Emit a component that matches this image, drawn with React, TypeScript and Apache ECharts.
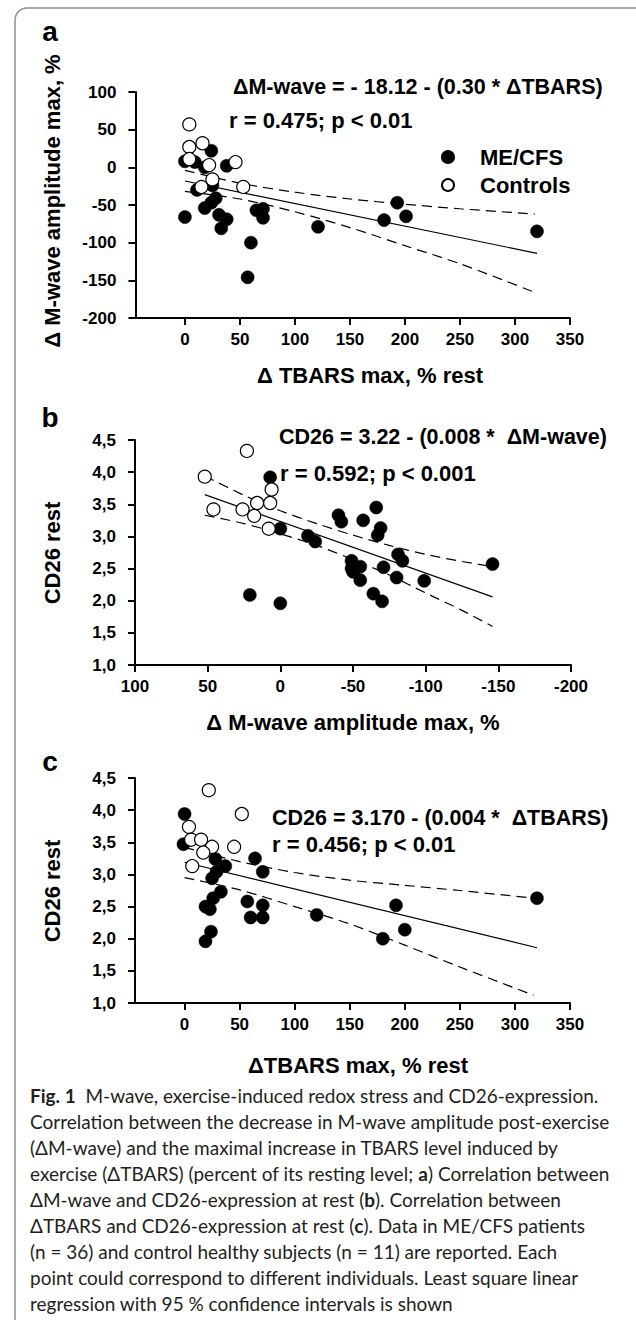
import React, { useEffect, useRef } from 'react';
import * as echarts from 'echarts';

const FONT = '"Liberation Sans", Arial, Helvetica, sans-serif';
const CAP_FONT = 'Lato, "Noto Sans", sans-serif';

// ---------- Panel a : ΔTBARS (x) vs ΔM-wave (y) ----------
const aXTicks = [0, 50, 100, 150, 200, 250, 300, 350];
const aMecfs: number[][] = [
  [24, 22], [0, 8], [9, 7], [18, 0], [38, 2], [11, -30], [25, -24], [28, -41],
  [24, -47], [18, -54], [31, -63], [38, -69], [33, -81], [0, -66], [65, -57],
  [71, -55], [71, -67], [121, -79], [193, -47], [201, -65], [181, -70],
  [60, -100], [57, -146], [320, -85],
];
const aControls: number[][] = [
  [4, 57], [4, 27], [16, 32], [4, 11], [46, 7], [22, 3], [25, -16], [15, -26], [53, -26],
];
const aFit: number[][] = [[0, -18.1], [320, -114.1]];
const aUpper: number[][] = [[0, -4], [50, -21], [100, -33], [150, -42], [200, -49], [250, -55], [318, -62]];
const aLower: number[][] = [[0, -32], [50, -42], [100, -59], [150, -80], [200, -104], [250, -128], [318, -166]];

// ---------- Panel b : ΔM-wave (x, inverted) vs CD26 (y) ----------
const bMecfs: number[][] = [
  [7, 3.92], [0, 3.12], [-19, 3.01], [-24, 2.92], [21, 2.09], [0, 1.96], [-40, 3.33],
  [-42, 3.23], [-57, 3.25], [-66, 3.45], [-69, 3.13], [-67, 3.02], [-49, 2.62],
  [-49, 2.5], [-55, 2.53], [-50, 2.45], [-55, 2.32], [-71, 2.52], [-81, 2.72],
  [-84, 2.62], [-80, 2.36], [-99, 2.31], [-64, 2.11], [-70, 1.99], [-146, 2.57],
];
const bControls: number[][] = [
  [52, 3.93], [23, 4.33], [46, 3.42], [26, 3.42], [18, 3.32], [16, 3.52], [7, 3.52], [6, 3.73], [8, 3.12],
];
const bFit: number[][] = [[52, 3.65], [-146, 2.06]];
const bUpper: number[][] = [[52, 3.94], [25, 3.64], [0, 3.4], [-25, 3.2], [-50, 3.02], [-75, 2.86], [-100, 2.72], [-125, 2.61], [-146, 2.53]];
const bLower: number[][] = [[52, 3.33], [25, 3.2], [0, 3.04], [-25, 2.86], [-50, 2.64], [-75, 2.4], [-100, 2.12], [-125, 1.85], [-146, 1.6]];

// ---------- Panel c : ΔTBARS (x) vs CD26 (y) ----------
const cMecfs: number[][] = [
  [0, 3.94], [-1, 3.47], [28, 3.24], [37, 3.13], [29, 3.04], [25, 2.94], [64, 3.25],
  [71, 3.04], [33, 2.73], [26, 2.63], [19, 2.5], [23, 2.46], [57, 2.58], [71, 2.52],
  [60, 2.33], [71, 2.33], [120, 2.37], [24, 2.11], [19, 1.96], [192, 2.52], [180, 2.0],
  [200, 2.14], [320, 2.63],
];
const cControls: number[][] = [
  [22, 4.31], [52, 3.94], [4, 3.74], [6, 3.54], [15, 3.54], [25, 3.43], [17, 3.34], [45, 3.43], [7, 3.13],
];
const cFit: number[][] = [[0, 3.19], [320, 1.86]];
const cUpper: number[][] = [[0, 3.42], [50, 3.2], [100, 3.03], [150, 2.91], [200, 2.83], [250, 2.75], [317, 2.63]];
const cLower: number[][] = [[0, 2.95], [50, 2.76], [100, 2.5], [150, 2.23], [200, 1.9], [250, 1.56], [317, 1.12]];

const seriesNames = ['ME/CFS', 'Controls'];

const captionLines = [
  '{b|Fig. 1}  M-wave, exercise-induced redox stress and CD26-expression.',
  'Correlation between the decrease in M-wave amplitude post-exercise',
  '(ΔM-wave) and the maximal increase in TBARS level induced by',
  'exercise (ΔTBARS) (percent of its resting level; {b|a}) Correlation between',
  'ΔM-wave and CD26-expression at rest ({b|b}). Correlation between',
  'ΔTBARS and CD26-expression at rest ({b|c}). Data in ME/CFS patients',
  '(n = 36) and control healthy subjects (n = 11) are reported. Each',
  'point could correspond to different individuals. Least square linear',
  'regression with 95 % confidence intervals is shown',
];

const axisLine = { show: true, onZero: false, lineStyle: { color: '#000', width: 2 } };
const tick = { show: true, length: 7, lineStyle: { color: '#000', width: 2 } };
const lbl = { color: '#000', fontSize: 17, fontWeight: 'bold' as const, fontFamily: FONT };
const commaFmt = (v: number) => v.toFixed(1).replace('.', ',');

function text(x: number, y: number, t: string, size: number, align = 'left', rotation = 0) {
  return {
    type: 'text',
    x,
    y,
    rotation,
    silent: true,
    style: {
      text: t,
      fill: '#000',
      fontSize: size,
      fontWeight: 'bold',
      fontFamily: FONT,
      align,
      verticalAlign: 'middle',
      textAlign: align,
      textVerticalAlign: 'middle',
    },
  };
}

export default function App() {
  const ref = useRef<HTMLDivElement>(null);
  useEffect(() => {
    if (!ref.current) return;
    const chart = echarts.init(ref.current, undefined, { renderer: 'svg' });

    const scatter = (name: string, data: number[][], idx: number, open: boolean) => ({
      type: 'scatter',
      name,
      xAxisIndex: idx,
      yAxisIndex: idx,
      data,
      symbol: 'circle',
      symbolSize: 13,
      z: open ? 4 : 3,
      itemStyle: open
        ? { color: '#fff', borderColor: '#000', borderWidth: 1.2, opacity: 1 }
        : { color: '#000', borderColor: '#000', borderWidth: 0.5, opacity: 1 },
      silent: true,
    });
    const line = (data: number[][], idx: number, dashed: boolean) => ({
      type: 'line',
      xAxisIndex: idx,
      yAxisIndex: idx,
      data,
      symbol: 'none',
      smooth: dashed ? 0.3 : false,
      z: 2,
      silent: true,
      lineStyle: { color: '#000', width: 1.2, type: dashed ? [10, 6] : 'solid' },
    });

    const caption = captionLines.map((t, i) => ({
      type: 'text',
      x: 30,
      y: 1095 + i * 26,
      silent: true,
      style: {
        text: t,
        fill: '#231f20',
        fontSize: 19,
        fontFamily: CAP_FONT,
        align: 'left',
        verticalAlign: 'middle',
        textAlign: 'left',
        textVerticalAlign: 'middle',
        rich: {
          b: { fontSize: 19, fontWeight: 'bold', fontFamily: CAP_FONT, fill: '#231f20' },
        },
      },
    }));

    chart.setOption({
      animation: false,
      backgroundColor: '#fff',
      grid: [
        { left: 135.4, top: 92, width: 434.6, height: 226 },
        { left: 135, top: 440, width: 436, height: 225 },
        { left: 135, top: 778, width: 435, height: 225 },
      ],
      xAxis: [
        {
          gridIndex: 0, type: 'value', min: -45, max: 350,
          axisLine, axisTick: { ...tick, customValues: aXTicks },
          axisLabel: { ...lbl, margin: 13, customValues: aXTicks },
          splitLine: { show: false },
        },
        {
          gridIndex: 1, type: 'value', min: -200, max: 100, interval: 50, inverse: true,
          axisLine, axisTick: tick, axisLabel: { ...lbl, margin: 13 },
          splitLine: { show: false },
        },
        {
          gridIndex: 2, type: 'value', min: -45, max: 350,
          axisLine, axisTick: { ...tick, customValues: aXTicks },
          axisLabel: { ...lbl, margin: 13, customValues: aXTicks },
          splitLine: { show: false },
        },
      ],
      yAxis: [
        {
          gridIndex: 0, type: 'value', min: -200, max: 100, interval: 50,
          axisLine, axisTick: tick, axisLabel: { ...lbl, margin: 19 },
          splitLine: { show: false },
        },
        {
          gridIndex: 1, type: 'value', min: 1, max: 4.5, interval: 0.5,
          axisLine, axisTick: tick, axisLabel: { ...lbl, margin: 19, formatter: commaFmt },
          splitLine: { show: false },
        },
        {
          gridIndex: 2, type: 'value', min: 1, max: 4.5, interval: 0.5,
          axisLine, axisTick: tick, axisLabel: { ...lbl, margin: 19, formatter: commaFmt },
          splitLine: { show: false },
        },
      ],
      legend: {
        orient: 'vertical',
        left: 436,
        top: 141,
        itemWidth: 12,
        itemHeight: 12,
        itemGap: 6,
        icon: 'circle',
        selectedMode: false,
        data: seriesNames,
        textStyle: { color: '#000', fontSize: 22, fontWeight: 'bold', fontFamily: FONT, padding: [0, 0, 0, 21] },
      },
      series: [
        line(aFit, 0, false), line(aUpper, 0, true), line(aLower, 0, true),
        scatter(seriesNames[0], aMecfs, 0, false), scatter(seriesNames[1], aControls, 0, true),
        line(bFit, 1, false), line(bUpper, 1, true), line(bLower, 1, true),
        scatter(seriesNames[0], bMecfs, 1, false), scatter(seriesNames[1], bControls, 1, true),
        line(cFit, 2, false), line(cUpper, 2, true), line(cLower, 2, true),
        scatter(seriesNames[0], cMecfs, 2, false), scatter(seriesNames[1], cControls, 2, true),
      ],
      graphic: [
        {
          type: 'rect', silent: true, z: -10,
          shape: { x: 15, y: 8, width: 700, height: 1400, r: 12 },
          style: { fill: 'none', stroke: '#8c8c8c', lineWidth: 1.5 },
        },
        text(50, 31.5, 'a', 28, 'center'),
        text(233, 87, 'ΔM-wave = - 18.12 - (0.30 * ΔTBARS)', 21.5),
        text(229, 120, 'r = 0.475; p < 0.01', 22),
        text(52, 201, 'Δ M-wave amplitude max, %', 22, 'center', Math.PI / 2),
        text(370, 375, 'Δ TBARS max, % rest', 22, 'center'),

        text(50, 417, 'b', 28, 'center'),
        text(279, 437, 'CD26 = 3.22 - (0.008 *  ΔM-wave)', 21.5),
        text(280, 473, 'r = 0.592; p < 0.001', 22),
        text(52, 553, 'CD26 rest', 22, 'center', Math.PI / 2),
        text(353, 722, 'Δ M-wave amplitude max, %', 22, 'center'),

        text(50, 761, 'c', 28, 'center'),
        text(272, 818, 'CD26 = 3.170 - (0.004 *  ΔTBARS)', 21.5),
        text(272, 844, 'r = 0.456; p < 0.01', 22),
        text(52, 891, 'CD26 rest', 22, 'center', Math.PI / 2),
        text(358, 1065, 'ΔTBARS max, % rest', 22, 'center'),
        ...caption,
      ],
    });
    return () => chart.dispose();
  }, []);

  return (
    <div
      ref={ref}
      style={{ position: 'absolute', left: 0, top: 0, width: 636, height: 1320, background: '#fff' }}
    />
  );
}
